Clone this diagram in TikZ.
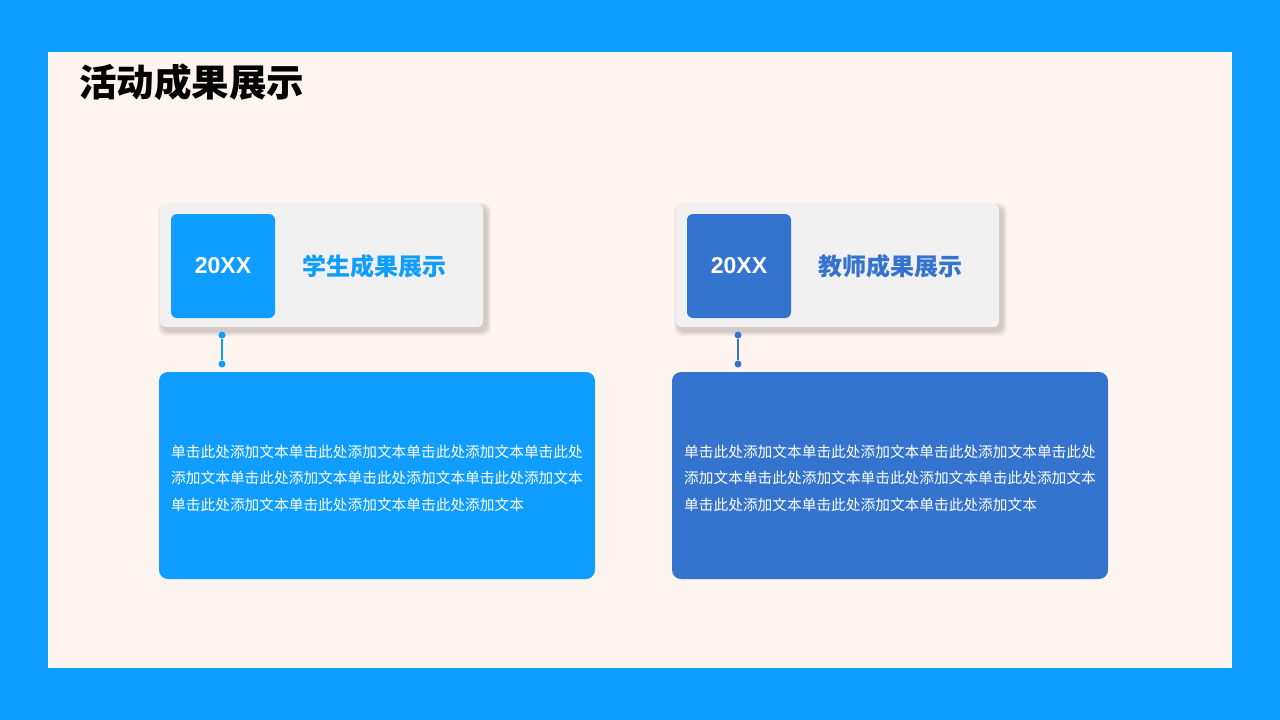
\documentclass[tikz,border=0pt]{standalone}
\usepackage{fontspec}
\setmainfont{Noto Sans CJK SC}
\newfontfamily\latinf{Liberation Sans}
\definecolor{sky}{HTML}{0F9EFF}
\definecolor{royal}{HTML}{3574CE}
\definecolor{paper}{HTML}{FFF5F0}
\definecolor{card}{HTML}{F1F1F1}
\tikzset{
 cardbox/.style={fill=card,rounded corners=6pt},
 shadowlayer/.style={fill=black,fill opacity=0.035,rounded corners=8pt},
 yearbox/.style={rounded corners=6pt,text=white,font=\latinf\bfseries\fontsize{23}{26}\selectfont},
 headtxt/.style={anchor=west,font=\bfseries\fontsize{24}{28}\selectfont},
 bodybox/.style={rounded corners=9pt},
 bodytxt/.style={anchor=west,text=white,align=left,inner sep=0pt,font=\fontsize{14.7}{26.5}\selectfont},
 dotc/.style={circle,inner sep=0pt,minimum size=7pt},
}
\newcommand{\softshadow}[4]{%
 \foreach \e in {1,2,3,4,5}{\path[shadowlayer] (#1+3-\e,#2+4-\e) rectangle (#3+3+\e,#4+4+\e);}}
\begin{document}
\begin{tikzpicture}[x=1pt,y=-1pt]
\fill[sky] (0,0) rectangle (1280,720);
\fill[paper] (48,52) rectangle (1232,668);
\useasboundingbox (0,0) rectangle (1280,720);
\node[anchor=west,inner sep=0pt,font=\bfseries\fontsize{37.5}{42}\selectfont] (title) at (79,82) {活动成果展示};
% left
\softshadow{160}{204}{483}{327}
\path[cardbox] (160,204) rectangle (483,327);
\node[yearbox,fill=sky,minimum width=104pt,minimum height=104pt] (y1) at (223,266) {20XX};
\node[headtxt,text=sky,inner sep=0pt] (h1) at (302,266) {学生成果展示};
\node[dotc,fill=sky] (a1) at (222,335) {};
\node[dotc,fill=sky] (b1) at (222,364) {};
\draw[sky,line width=1.5pt] (a1) -- (b1);
\fill[bodybox,sky] (159,372) rectangle (595,579);
\node[bodytxt] (t1) at (171,478) {单击此处添加文本单击此处添加文本单击此处添加文本单击此处\\添加文本单击此处添加文本单击此处添加文本单击此处添加文本\\单击此处添加文本单击此处添加文本单击此处添加文本};
% right
\softshadow{676}{204}{999}{327}
\path[cardbox] (676,204) rectangle (999,327);
\node[yearbox,fill=royal,minimum width=104pt,minimum height=104pt] (y2) at (739,266) {20XX};
\node[headtxt,text=royal,inner sep=0pt] (h2) at (818,266) {教师成果展示};
\node[dotc,fill=royal] (a2) at (738,335) {};
\node[dotc,fill=royal] (b2) at (738,364) {};
\draw[royal,line width=1.5pt] (a2) -- (b2);
\fill[bodybox,royal] (672,372) rectangle (1108,579);
\node[bodytxt] (t2) at (684,478) {单击此处添加文本单击此处添加文本单击此处添加文本单击此处\\添加文本单击此处添加文本单击此处添加文本单击此处添加文本\\单击此处添加文本单击此处添加文本单击此处添加文本};
\end{tikzpicture}
\end{document}
